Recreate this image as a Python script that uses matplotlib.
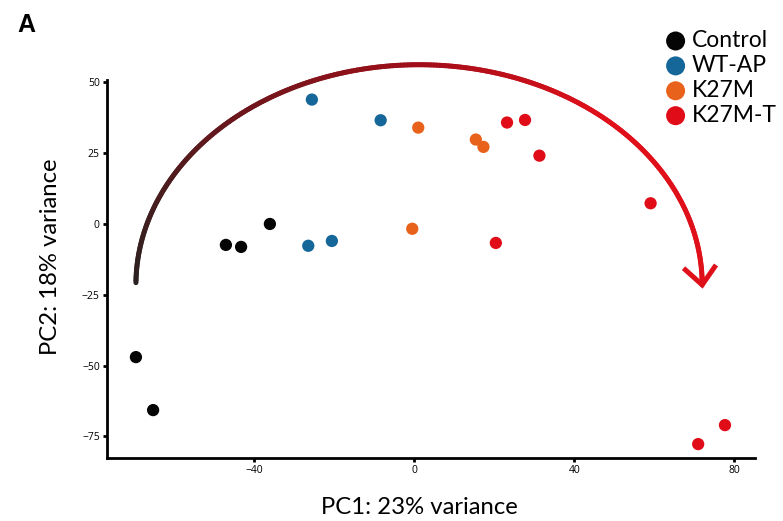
import numpy as np
import matplotlib.pyplot as plt
from matplotlib.collections import LineCollection
from matplotlib.colors import LinearSegmentedColormap
from matplotlib.lines import Line2D

# PCA scores
control_x = [-69.6, -65.3, -47.1, -43.3, -36.1]
control_y = [-47.0, -65.7, -7.4, -8.1, 0.0]
wtap_x = [-25.6, -8.4, -26.5, -20.6]
wtap_y = [43.9, 36.6, -7.7, -6.0]
k27m_x = [1.0, 15.4, 17.3, -0.5]
k27m_y = [34.0, 29.8, 27.2, -1.7]
k27mt_x = [23.2, 27.7, 31.3, 59.1, 20.4, 71.0, 77.7]
k27mt_y = [35.8, 36.7, 24.1, 7.3, -6.7, -77.7, -71.0]

groups = ["Control", "WT-AP", "K27M", "K27M-T"]
colors = ["#050505", "#15679a", "#e8621b", "#e00d18"]
xs = [control_x, wtap_x, k27m_x, k27mt_x]
ys = [control_y, wtap_y, k27m_y, k27mt_y]

x_ticks = [-40, 0, 40, 80]
y_ticks = [-75, -50, -25, 0, 25, 50]

fig = plt.figure(figsize=(7.83, 5.21), dpi=100)
ax = fig.add_axes([0.1363, 0.1215, 0.8279, 0.7249])

for g, c, x, y in zip(groups, colors, xs, ys):
    ax.scatter(x, y, s=78, color=c, edgecolors="none", label=g, zorder=3)

ax.set_xlim(-76.9, 85.2)
ax.set_ylim(-82.5, 50.8)
ax.set_xticks(x_ticks)
ax.set_yticks(y_ticks)
for s in ["top", "right"]:
    ax.spines[s].set_visible(False)
for s in ["left", "bottom"]:
    ax.spines[s].set_linewidth(2)
ax.tick_params(length=3, width=2, labelsize=7.5, pad=2)
for lab in ax.get_xticklabels() + ax.get_yticklabels():
    lab.set_family("Open Sans")

ax.set_xlabel("PC1: 23% variance", family="Lato", fontsize=17.2)
ax.set_ylabel("PC2: 18% variance", family="Lato", fontsize=17.2)
ax.xaxis.set_label_coords(0.483, -0.103)
ax.yaxis.set_label_coords(-0.07, 0.533)

# trajectory arc (half ellipse) with a dark-to-red gradient
cx, cy, a, b = 1.2, -21.5, 70.8, 77.7
theta = np.linspace(np.pi - 0.01, 0, 300)
px = cx + a * np.cos(theta)
py = cy + b * np.sin(theta)
pts = np.column_stack([px, py]).reshape(-1, 1, 2)
segs = np.concatenate([pts[:-1], pts[1:]], axis=1)
cmap = LinearSegmentedColormap.from_list(
    "traj", [(0, "#2a2220"), (0.5, "#a00e19"), (0.72, "#e0101b"), (1, "#e0101b")])
lc = LineCollection(segs, cmap=cmap, linewidths=3.6, clip_on=False,
                    capstyle="round", joinstyle="round", zorder=2)
lc.set_array(np.linspace(0, 1, len(segs)))
ax.add_collection(lc)
tip_x, tip_y = px[-1], py[-1]
ax.add_line(Line2D([tip_x - 4.2, tip_x, tip_x + 3.1],
                   [tip_y + 5.3, tip_y, tip_y + 6.3],
                   color="#e0101b", lw=3.6, clip_on=False, zorder=2,
                   solid_joinstyle="miter"))

leg = fig.legend(loc="upper left", bbox_to_anchor=(0.8365, 0.960),
                 frameon=False, prop={"family": "Lato", "size": 16.5},
                 markerscale=1.55, handletextpad=0.22, labelspacing=0.17,
                 handlelength=1.0, borderaxespad=0)

fig.text(0.022, 0.975, "A", family="Liberation Sans", weight="bold",
         fontsize=18, va="top")

fig.savefig("out.png", dpi=100)
